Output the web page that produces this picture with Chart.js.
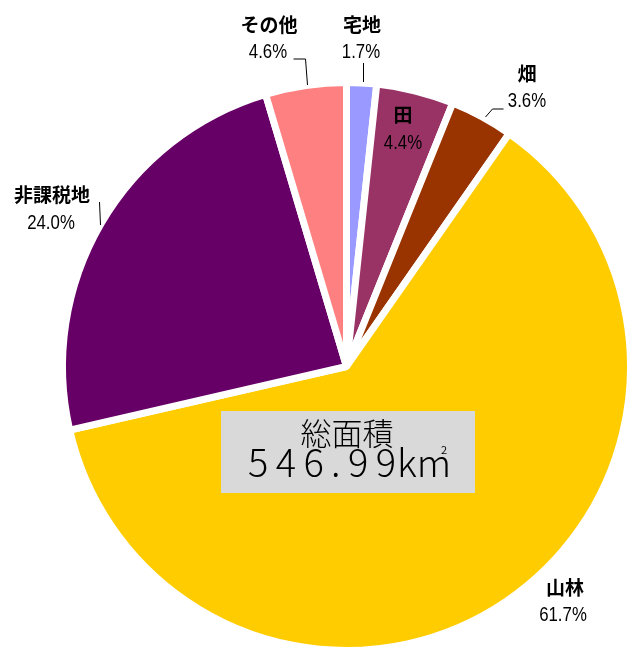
<!DOCTYPE html>
<html lang="ja">
<head>
<meta charset="utf-8">
<title>地目別面積</title>
<script src="https://cdn.jsdelivr.net/npm/chart.js@4/dist/chart.umd.min.js"></script>
<style>
  html, body { margin: 0; padding: 0; background: #fff; }
  #areaChart { display: block; }
</style>
</head>
<body>
<canvas id="areaChart" width="628" height="649"></canvas>
<script>
// land use categories, clockwise from 12 o'clock
const categories = ["宅地", "田", "畑", "山林", "非課税地", "その他"];
// share of total area (%)
const shares = [1.7, 4.4, 3.6, 61.7, 24.0, 4.6];
const totalArea = "546.99";
const colors = ["#9999FF", "#993366", "#993300", "#FFCC00", "#660066", "#FF8080"];

// label placement (name / percent positions, optional leader line)
const labelLayout = [
  { name: [362, 25], pct: [361, 51], leader: [[363, 63], [363, 82]] },
  { name: [403, 115], pct: [403, 142] },
  { name: [527, 74], pct: [527, 100], leader: [[485, 117], [492, 109], [503, 109]] },
  { name: [565, 588], pct: [563, 614] },
  { name: [52, 195], pct: [51, 222], leader: [[99, 202], [100, 225]] },
  { name: [269, 25], pct: [268, 51], leader: [[293, 59], [305, 59], [307, 85]] }
];

// narrow text: Arial-metric font squeezed horizontally
function narrowText(ctx, text, x, y) {
  ctx.save();
  ctx.translate(x, y);
  ctx.scale(0.8, 1);
  ctx.fillText(text, 0, 0);
  ctx.restore();
}

const labelPlugin = {
  id: "pieLabels",
  afterDraw(chart) {
    const ctx = chart.ctx;
    const total = shares.reduce((a, b) => a + b, 0);
    ctx.save();
    ctx.textAlign = "center";
    ctx.textBaseline = "middle";
    ctx.fillStyle = "#000";
    ctx.strokeStyle = "#000";
    ctx.lineWidth = 1;

    categories.forEach((cat, i) => {
      const pos = labelLayout[i];
      ctx.font = "bold 19px 'Noto Sans CJK JP', sans-serif";
      ctx.fillText(cat, pos.name[0], pos.name[1]);
      ctx.font = "21px 'Liberation Sans', Arial, sans-serif";
      narrowText(ctx, (shares[i] / total * 100).toFixed(1) + "%", pos.pct[0], pos.pct[1] + 1);
      if (pos.leader) {
        ctx.beginPath();
        pos.leader.forEach((p, k) => k ? ctx.lineTo(p[0] + 0.5, p[1]) : ctx.moveTo(p[0] + 0.5, p[1]));
        ctx.stroke();
      }
    });

    // total area box
    ctx.fillStyle = "#D9D9D9";
    ctx.fillRect(221, 411, 254, 82);
    ctx.fillStyle = "#000";
    ctx.font = "300 31px 'Noto Sans CJK JP', sans-serif";
    ctx.fillText("総面積", 347, 433);
    ctx.textAlign = "left";
    ctx.font = "300 38px 'Noto Sans CJK JP', sans-serif";
    const w = ctx.measureText(totalArea).width;
    ctx.letterSpacing = ((148 - w) / 5) + "px";
    ctx.fillText(totalArea, 248, 463);
    ctx.letterSpacing = "0px";
    ctx.fillText("km", 397, 463);
    ctx.font = "11px 'Noto Sans CJK JP', sans-serif";
    ctx.fillText("2", 441, 450);
    ctx.restore();
  }
};

new Chart(document.getElementById("areaChart"), {
  type: "pie",
  data: {
    labels: categories,
    datasets: [{
      data: shares,
      backgroundColor: colors,
      borderColor: "#FFFFFF",
      borderWidth: 7
    }]
  },
  options: {
    responsive: false,
    animation: false,
    radius: 284,
    layout: { padding: { left: 65, top: 84, right: 0, bottom: 0 } },
    plugins: {
      legend: { display: false },
      tooltip: { enabled: false }
    }
  },
  plugins: [labelPlugin]
});
</script>
</body>
</html>
